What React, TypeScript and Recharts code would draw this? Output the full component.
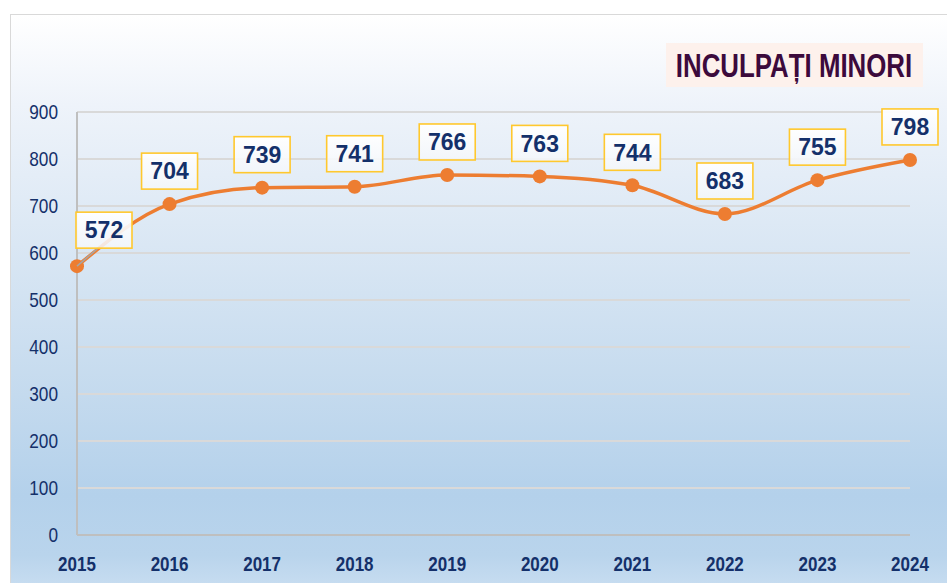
import React from 'react';
import { LineChart, Line, XAxis, YAxis, CartesianGrid, LabelList } from 'recharts';

const years = ['2015', '2016', '2017', '2018', '2019', '2020', '2021', '2022', '2023', '2024'];
const inculpati = [572, 704, 739, 741, 766, 763, 744, 683, 755, 798];
const yTicks = [0, 100, 200, 300, 400, 500, 600, 700, 800, 900];

const data = years.map((year, i) => ({ year, value: inculpati[i] }));

const NAVY = '#14306a';
const ORANGE = '#ed7d31';
const FONT = "'Liberation Sans', Arial, sans-serif";

// Arial Narrow look: squeeze the regular face horizontally
const YTick = (props: any) => {
  const { x, y, payload } = props;
  return (
    <g transform={`translate(${x},${y}) scale(0.82,1)`}>
      <text x={0} y={0} dy="0.355em" textAnchor="end" fill={NAVY} fontSize={21} fontFamily={FONT}>
        {payload.value}
      </text>
    </g>
  );
};

const XTick = (props: any) => {
  const { x, y, payload } = props;
  return (
    <g transform={`translate(${x},${y}) scale(0.81,1)`}>
      <text x={0} y={0} dy="0.71em" textAnchor="middle" fill={NAVY} fontSize={21} fontWeight="bold" fontFamily={FONT}>
        {payload.value}
      </text>
    </g>
  );
};

const ValueLabel = (props: any) => {
  const { x, y, value, index } = props;
  const w = 56;
  const h = 36;
  const cx = index === 0 ? x + 27 : x;
  const cy = index === 0 ? y - 36 : y - 33;
  return (
    <g>
      {index === 0 && (
        <line x1={x} y1={y} x2={cx - 6} y2={cy + h / 2} stroke="#a6a6a6" strokeWidth={1.5} />
      )}
      <rect
        x={cx - w / 2}
        y={cy - h / 2}
        width={w}
        height={h}
        fill="url(#lblFill)"
        stroke="#ffc82e"
        strokeWidth={1.6}
      />
      <text x={cx} y={cy} dy="0.36em" textAnchor="middle" fill={NAVY} fontSize={23} fontWeight="bold" fontFamily={FONT}>
        {value}
      </text>
    </g>
  );
};

export default function App() {
  return (
    <div style={{ position: 'absolute', left: 0, top: 0, width: 947, height: 583, overflow: 'hidden' }}>
      <div
        style={{
          position: 'absolute',
          left: 10,
          top: 14,
          width: 960,
          height: 600,
          border: '1.5px solid #d9d9d9',
          background:
            'linear-gradient(to bottom, #ffffff 0px, #eef3fa 90px, #dae7f4 230px, #c4daee 380px, #b4d1eb 480px, #b9d4ec 540px, #c6dcf0 569px)',
        }}
      />
      <div
        style={{
          position: 'absolute',
          left: 666,
          top: 43,
          width: 257,
          height: 44,
          background: '#fdf1ec',
        }}
      />
      <div
        style={{
          position: 'absolute',
          left: 794,
          top: 43,
          height: 44,
          color: '#3c0a3c',
          fontFamily: FONT,
          fontWeight: 'bold',
          fontSize: 34,
          lineHeight: '44px',
          whiteSpace: 'nowrap',
          transform: 'translateX(-50%) scaleX(0.76)',
        }}
      >
        INCULPAȚI MINORI
      </div>
      <div style={{ position: 'absolute', left: 0, top: 0 }}>
        <LineChart width={947} height={583} data={data} margin={{ top: 112, right: 37, left: 17, bottom: 18 }}>
          <defs>
            <linearGradient id="lblFill" x1="0" y1="0" x2="0" y2="1">
              <stop offset="0%" stopColor="#ffffff" stopOpacity={0.95} />
              <stop offset="100%" stopColor="#f4f7fb" stopOpacity={0.85} />
            </linearGradient>
          </defs>
          <CartesianGrid vertical={false} stroke="#d9d9d9" strokeWidth={2} />
          <XAxis
            dataKey="year"
            height={30}
            tickLine={false}
            tickSize={0}
            tickMargin={21}
            axisLine={{ stroke: '#bfbfbf', strokeWidth: 2 }}
            tick={<XTick />}
            interval={0}
          />
          <YAxis
            width={60}
            domain={[0, 900]}
            ticks={yTicks}
            tickLine={false}
            tickSize={0}
            tickMargin={19}
            axisLine={{ stroke: '#bfbfbf', strokeWidth: 2 }}
            tick={<YTick />}
          />
          <Line
            type="monotone"
            dataKey="value"
            stroke={ORANGE}
            strokeWidth={3.5}
            dot={{ r: 7, fill: ORANGE, stroke: ORANGE, strokeWidth: 0 }}
            isAnimationActive={false}
          >
            <LabelList dataKey="value" content={<ValueLabel />} />
          </Line>
        </LineChart>
      </div>
    </div>
  );
}
